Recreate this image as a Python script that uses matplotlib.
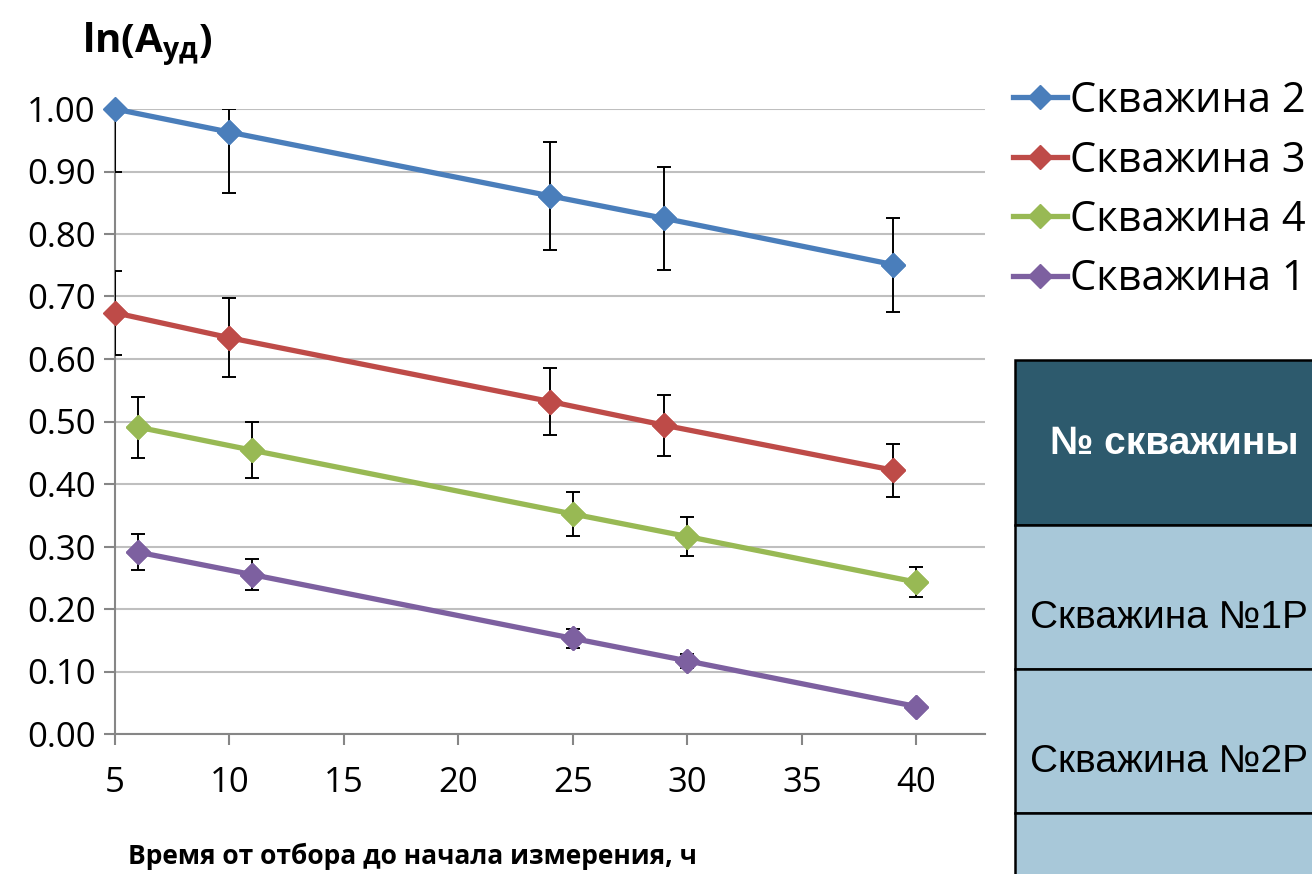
import matplotlib
matplotlib.use("Agg")
import matplotlib.pyplot as plt
import numpy as np
from matplotlib.patches import Rectangle

plt.rcParams["font.family"] = ["Open Sans", "DejaVu Sans"]
plt.rcParams["mathtext.fontset"] = "custom"
plt.rcParams["mathtext.rm"] = "Open Sans"
plt.rcParams["mathtext.bf"] = "Open Sans:bold"

# ---- data ----
x_a = [5, 10, 24, 29, 39]
x_b = [6, 11, 25, 30, 40]

y_w2 = [1.000, 0.963, 0.861, 0.825, 0.751]
e_w2 = [0.100, 0.097, 0.086, 0.082, 0.075]
y_w3 = [0.674, 0.634, 0.532, 0.494, 0.422]
e_w3 = [0.067, 0.063, 0.053, 0.049, 0.042]
y_w4 = [0.491, 0.454, 0.352, 0.316, 0.243]
e_w4 = [0.049, 0.045, 0.035, 0.031, 0.024]
y_w1 = [0.291, 0.255, 0.153, 0.117, 0.044]
e_w1 = [0.029, 0.025, 0.015, 0.011, 0.004]

labels = ["Скважина 2", "Скважина 3", "Скважина 4", "Скважина 1"]
colors = ["#4a7ebb", "#be4b48", "#98b954", "#7d60a0"]

table_header = "№ скважины"
table_rows = ["Скважина №1Р", "Скважина №2Р"]

W, H = 1312, 874
YMIN, YMAX = 0.0, 1.0

fig = plt.figure(figsize=(W / 100, H / 100), dpi=100)
fig.patch.set_facecolor("white")
ax = fig.add_axes([115 / W, 1 - 734 / H, 870 / W, 625 / H])

series = [
    (x_a, y_w2, e_w2),
    (x_a, y_w3, e_w3),
    (x_b, y_w4, e_w4),
    (x_b, y_w1, e_w1),
]

handles = []
for (xs, ys, es), lab, col in zip(series, labels, colors):
    ys = np.array(ys)
    es = np.array(es)
    # excel-style: error bars stop at the axis limits
    up = np.minimum(ys + es, YMAX) - ys
    lo = ys - np.maximum(ys - es, YMIN)
    ax.errorbar(xs, ys, yerr=[lo, up], fmt="none", ecolor="black",
                elinewidth=1.4, capsize=5, capthick=1.4, zorder=2.8)
    ln, = ax.plot(xs, ys, color=col, lw=3.8, marker="D", markersize=12,
                  markeredgecolor=col, label=lab, zorder=3)
    ax.plot(xs, ys, ls="none", marker="D", markersize=12, color=col,
            clip_on=False, zorder=4)
    handles.append(ln)

ax.set_xlim(5, 43)
ax.set_ylim(YMIN, YMAX)
ax.set_xticks(range(5, 41, 5))
ax.set_yticks(np.arange(0, 1.001, 0.1))
ax.set_yticklabels([f"{v:.2f}" for v in np.arange(0, 1.001, 0.1)])

ax.yaxis.grid(True, color="#bfbfbf", lw=1.5)
ax.set_axisbelow(True)
for s in ["top", "right"]:
    ax.spines[s].set_visible(False)
for s in ["left", "bottom"]:
    ax.spines[s].set_color("#868686")
    ax.spines[s].set_linewidth(1.5)
ax.tick_params(axis="both", direction="out", length=8, width=1.5,
               color="#868686", labelsize=25, labelcolor="black")
ax.tick_params(axis="y", pad=6)
ax.tick_params(axis="x", pad=15)

# axis titles
fig.text(82 / W, 1 - 45 / H, r"$\mathbf{ln(A_{уд})}$", fontsize=29,
         ha="left", va="center")
fig.text(412 / W, 1 - 856 / H, "Время от отбора до начала измерения, ч",
         fontsize=19, fontweight="bold", ha="center", va="center")

# legend
fig.legend(handles=handles, labels=labels, loc="upper left",
           bbox_to_anchor=(1013 / W, 1 - 80 / H), frameon=False,
           fontsize=30, handlelength=1.3, handletextpad=0.06,
           labelspacing=0.42, borderpad=0, borderaxespad=0, numpoints=1)

# table fragment on the right (cut by the image border)
tx0 = 1015
edges = [360, 525, 669, 813, 960]
fills = ["#2d5a6d", "#a8c8d9", "#a8c8d9", "#a8c8d9"]
for (top, bot), fc in zip(zip(edges[:-1], edges[1:]), fills):
    fig.add_artist(Rectangle((tx0 / W, 1 - bot / H), 400 / W, (bot - top) / H,
                             transform=fig.transFigure, facecolor=fc,
                             edgecolor="black", lw=1.8))
fig.text(1050 / W, 1 - 444 / H, table_header, color="white", fontsize=28,
         fontweight="bold", family="Liberation Sans", ha="left", va="center")
for txt, yc in zip(table_rows, [618, 762]):
    fig.text(1030 / W, 1 - yc / H, txt, color="black", fontsize=28,
             family="Liberation Sans", ha="left", va="center")

fig.savefig("out.png", dpi=100, facecolor="white")
